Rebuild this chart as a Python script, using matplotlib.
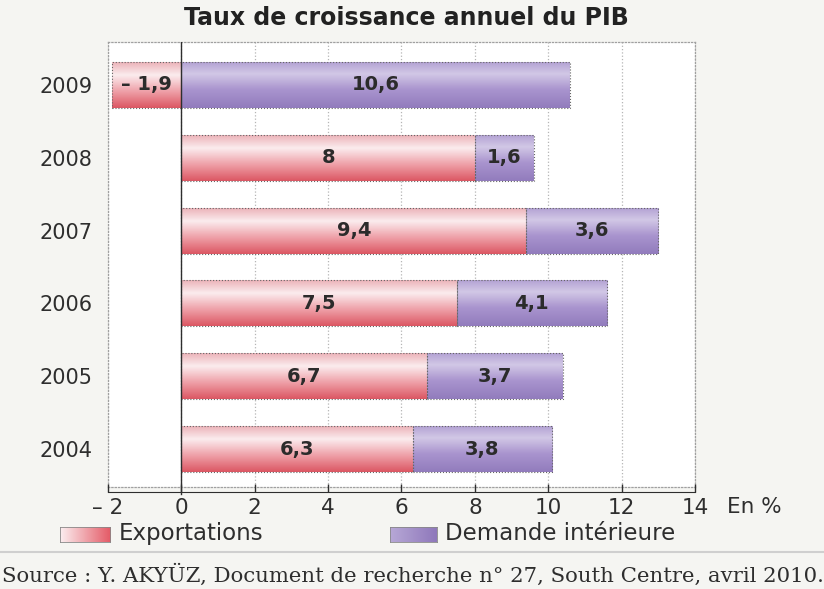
import numpy as np
import matplotlib.pyplot as plt
from matplotlib.colors import LinearSegmentedColormap
from matplotlib.patches import Rectangle

# Data
years = ['2004', '2005', '2006', '2007', '2008', '2009']
exports = [6.3, 6.7, 7.5, 9.4, 8.0, -1.9]
domestic = [3.8, 3.7, 4.1, 3.6, 1.6, 10.6]
xticks = [-2, 0, 2, 4, 6, 8, 10, 12, 14]


def fr(v):
    s = ('%g' % abs(v)).replace('.', ',')
    return ('– ' + s) if v < 0 else s


red_cmap = LinearSegmentedColormap.from_list(
    'red', [(0, '#dc5864'), (0.35, '#ee9ea6'), (0.72, '#fbecee'), (1, '#ecb4ba')])
purple_cmap = LinearSegmentedColormap.from_list(
    'purple', [(0, '#927cbd'), (0.4, '#a994ce'), (0.75, '#d2c8e6'), (1, '#b4a3d4')])
grad = np.linspace(0, 1, 64).reshape(-1, 1)

plt.rcParams['font.family'] = ['DejaVu Sans']
txt = '#2e2e2e'

fig = plt.figure(figsize=(8.24, 5.89), dpi=100, facecolor='#f5f5f2')
ax = fig.add_axes([0.131, 0.173, 0.7125, 0.756])
ax.set_facecolor('white')

h = 0.63
y = np.arange(len(years))
for i in y:
    e = exports[i]
    d = domestic[i]
    e0, e1 = min(0, e), max(0, e)
    d0 = max(0, e)
    d1 = d0 + d
    for (a, b, cm) in [(e0, e1, red_cmap), (d0, d1, purple_cmap)]:
        ax.imshow(grad, extent=[a, b, i - h / 2, i + h / 2], cmap=cm,
                  aspect='auto', origin='lower', zorder=2)
        ax.add_patch(Rectangle((a, i - h / 2), b - a, h, fill=False,
                               edgecolor='#666666', lw=0.8, ls=':', zorder=3))
    ax.text((e0 + e1) / 2, i, fr(e), ha='center', va='center',
            fontsize=14, fontweight='bold', color='#2b2b2b', zorder=4)
    ax.text((d0 + d1) / 2, i, fr(d), ha='center', va='center',
            fontsize=14, fontweight='bold', color='#2b2b2b', zorder=4)

ax.set_xlim(-2, 14)
ax.set_ylim(-0.52, 5.59)
ax.set_xticks(xticks)
ax.xaxis.grid(True, color='#b5b5b5', ls=':', lw=0.9)
ax.set_axisbelow(True)
ax.tick_params(axis='x', length=0, labelbottom=False)
ax.set_yticks(y)
ax.set_yticklabels(years, fontsize=15, color=txt)
ax.tick_params(axis='y', length=0, pad=11)
for s in ax.spines.values():
    s.set_color('#a0a0a0')
    s.set_linestyle(':')
    s.set_linewidth(0.9)
ax.axvline(0, color=txt, lw=1.0, zorder=5)

# separate x axis below the frame
axx = fig.add_axes([0.131, 0.1647, 0.7125, 0.0001])
axx.set_xlim(-2, 14)
axx.set_xticks(xticks)
axx.set_xticklabels([fr(t) for t in xticks], fontsize=15.5, color=txt)
axx.set_yticks([])
for k in ['top', 'left', 'right']:
    axx.spines[k].set_visible(False)
axx.spines['bottom'].set_color(txt)
axx.tick_params(axis='x', direction='in', length=6, width=1, pad=4,
                color=txt)
axx.patch.set_alpha(0)
ax.plot([0, 0], [-0.52, -0.62], color=txt, lw=1.0, clip_on=False)
fig.text(0.882, 0.139, 'En %', fontsize=15.5, color=txt, va='center')

fig.text(0.493, 0.969, 'Taux de croissance annuel du PIB', ha='center',
         va='center', fontsize=17, fontweight='bold', color='#222222')

# legend
hgrad = np.linspace(0, 1, 64).reshape(1, -1)
for x0, w, cm, label in [(0.073, 0.061, 'red', 'Exportations'),
                         (0.473, 0.057, 'purple', 'Demande intérieure')]:
    lax = fig.add_axes([x0, 0.080, w, 0.0255])
    cmap = LinearSegmentedColormap.from_list(
        cm, ['#fbeef0', '#e45a66'] if cm == 'red' else ['#b7a8d6', '#8f78bb'])
    lax.imshow(hgrad, cmap=cmap, aspect='auto')
    lax.set_xticks([])
    lax.set_yticks([])
    for s in lax.spines.values():
        s.set_color('#888888')
        s.set_linewidth(0.6)
    fig.text(x0 + w + 0.01, 0.094, label, fontsize=16.5, color=txt,
             va='center')

fig.add_artist(plt.Line2D([0, 1], [0.063, 0.063], color='#cfcfcf', lw=1.5))
fig.text(0.003, 0.024,
         'Source : Y. AKYÜZ, Document de recherche n° 27, South Centre, avril 2010.',
         fontsize=15.3, family=['DejaVu Serif'], color=txt, va='center')

fig.savefig('out.png', dpi=100, facecolor=fig.get_facecolor())
